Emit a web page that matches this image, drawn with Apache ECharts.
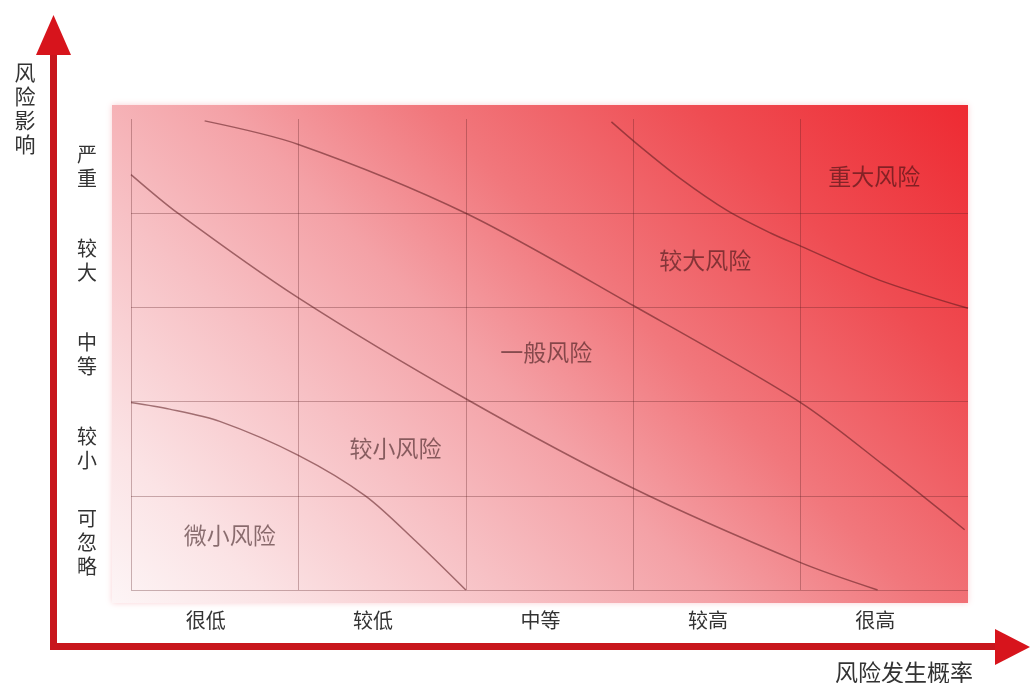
<!DOCTYPE html>
<html>
<head>
<meta charset="utf-8">
<script src="https://cdn.jsdelivr.net/npm/echarts@6/dist/echarts.min.js"></script>
<style>
html,body{margin:0;padding:0;background:#fff;}
#main{width:1030px;height:683px;}
</style>
</head>
<body>
<div id="main"></div>
<script>
// ---- data ----
const xCategories = ['很低', '较低', '中等', '较高', '很高'];
const yCategories = ['可忽略', '较小', '中等', '较大', '严重'];
const xTitle = '风险发生概率';
const yTitle = '风险影响';

// boundary curves (x = probability level, y = impact level, 0..5)
const curveMinor = [[0, 1.99], [0.23, 1.92], [0.53, 1.79], [1.0, 1.43], [1.4, 1.0], [1.7, 0.52], [2.0, 0]];
const curveLow = [[0, 4.41], [0.28, 4.0], [1.0, 3.1], [2.0, 2.03], [3.0, 1.08], [4.0, 0.29], [4.46, 0]];
const curveGeneral = [[0.44, 4.98], [1.0, 4.73], [2.0, 4.0], [3.0, 3.02], [4.0, 1.99], [4.5, 1.32], [4.98, 0.64]];
const curveHigh = [[2.87, 4.97], [3.04, 4.71], [3.28, 4.37], [3.56, 4.03], [3.82, 3.79], [4.0, 3.65], [4.47, 3.29], [5.0, 2.99]];

const regionNames = ['微小风险', '较小风险', '一般风险', '较大风险', '重大风险'];
const regionX = [0.59, 1.58, 2.48, 3.43, 4.44];
const regionY = [0.58, 1.50, 2.52, 3.50, 4.39];

// ---- chart ----
const FONT = '"Noto Sans CJK SC", "Noto Sans", sans-serif';
const gridColor = 'rgba(90,30,35,0.32)';
const curveColor = 'rgba(90,25,30,0.55)';

const chart = echarts.init(document.getElementById('main'), null, {renderer: 'canvas'});

function curveSeries(name, data) {
  return {
    name: name, type: 'line', xAxisIndex: 0, yAxisIndex: 0,
    data: data, smooth: 0.3, symbol: 'none',
    lineStyle: {color: curveColor, width: 1.5}, z: 3, silent: true
  };
}

const option = {
  backgroundColor: '#ffffff',
  animation: false,
  grid: {left: 131, right: 62, top: 119, bottom: 93, containLabel: false},
  xAxis: [
    {
      type: 'value', min: 0, max: 5, interval: 1,
      axisLine: {show: false}, axisTick: {show: false}, axisLabel: {show: false},
      splitLine: {show: true, showMaxLine: false, lineStyle: {color: gridColor, width: 1}}
    },
    {
      type: 'category', data: xCategories, position: 'bottom',
      axisLine: {show: false}, axisTick: {show: false}, splitLine: {show: false},
      axisLabel: {
        color: '#333', fontSize: 20, fontFamily: FONT, margin: 20,
        padding: [0, 18, 0, 0]
      }
    }
  ],
  yAxis: [
    {
      type: 'value', min: 0, max: 5, interval: 1,
      axisLine: {show: false}, axisTick: {show: false}, axisLabel: {show: false},
      splitLine: {show: true, showMaxLine: false, lineStyle: {color: gridColor, width: 1}}
    },
    {
      type: 'category', data: yCategories, position: 'left',
      axisLine: {show: false}, axisTick: {show: false}, splitLine: {show: false},
      axisLabel: {
        color: '#333', fontSize: 20, fontFamily: FONT, margin: 44, align: 'center',
        lineHeight: 24,
        formatter: function (v) { return v.split('').join('\n'); }
      }
    }
  ],
  graphic: [
    {
      type: 'rect', z: -10, silent: true,
      shape: {x: 112, y: 105, width: 856, height: 498},
      style: {
        fill: new echarts.graphic.LinearGradient(112, 603, 789, -74, [
          {offset: 0, color: '#fdf5f6'},
          {offset: 0.12, color: '#fbe3e5'},
          {offset: 0.3, color: '#f7c0c4'},
          {offset: 0.45, color: '#f4a1a6'},
          {offset: 0.6, color: '#f1777c'},
          {offset: 0.8, color: '#ef4c52'},
          {offset: 1, color: '#ee2a32'}
        ], true),
        shadowBlur: 6, shadowColor: 'rgba(240,120,130,0.35)'
      }
    },
    // axis arrows
    {type: 'line', silent: true, shape: {x1: 53.5, y1: 650, x2: 53.5, y2: 50}, style: {stroke: '#c8161d', lineWidth: 7}},
    {type: 'line', silent: true, shape: {x1: 50, y1: 646.5, x2: 998, y2: 646.5}, style: {stroke: '#c8161d', lineWidth: 7}},
    {type: 'polygon', silent: true, shape: {points: [[53.5, 15], [36, 55], [71, 55]]}, style: {fill: '#d7141c'}},
    {type: 'polygon', silent: true, shape: {points: [[1030, 647], [995, 629], [995, 665]]}, style: {fill: '#d7141c'}},
    // axis titles
    {
      type: 'text', silent: true,
      style: {
        text: yTitle.split('').join('\n'), x: 25, y: 60, align: 'center', verticalAlign: 'top',
        fontSize: 21, lineHeight: 24, fontFamily: FONT, fill: '#333'
      }
    },
    {
      type: 'text', silent: true,
      style: {
        text: xTitle, x: 904, y: 672, align: 'center', verticalAlign: 'middle',
        fontSize: 23, fontFamily: FONT, fill: '#333'
      }
    }
  ],
  series: [
    curveSeries('微小边界', curveMinor),
    curveSeries('较小边界', curveLow),
    curveSeries('一般边界', curveGeneral),
    curveSeries('较大边界', curveHigh),
    {
      type: 'scatter', xAxisIndex: 0, yAxisIndex: 0, symbolSize: 0, silent: true, z: 4,
      data: regionNames.map(function (n, i) { return {name: n, value: [regionX[i], regionY[i]]}; }),
      label: {
        show: true, position: 'inside', formatter: '{b}',
        fontSize: 23, fontFamily: FONT, color: 'rgba(40,10,12,0.68)'
      }
    }
  ]
};
chart.setOption(option);
</script>
</body>
</html>
